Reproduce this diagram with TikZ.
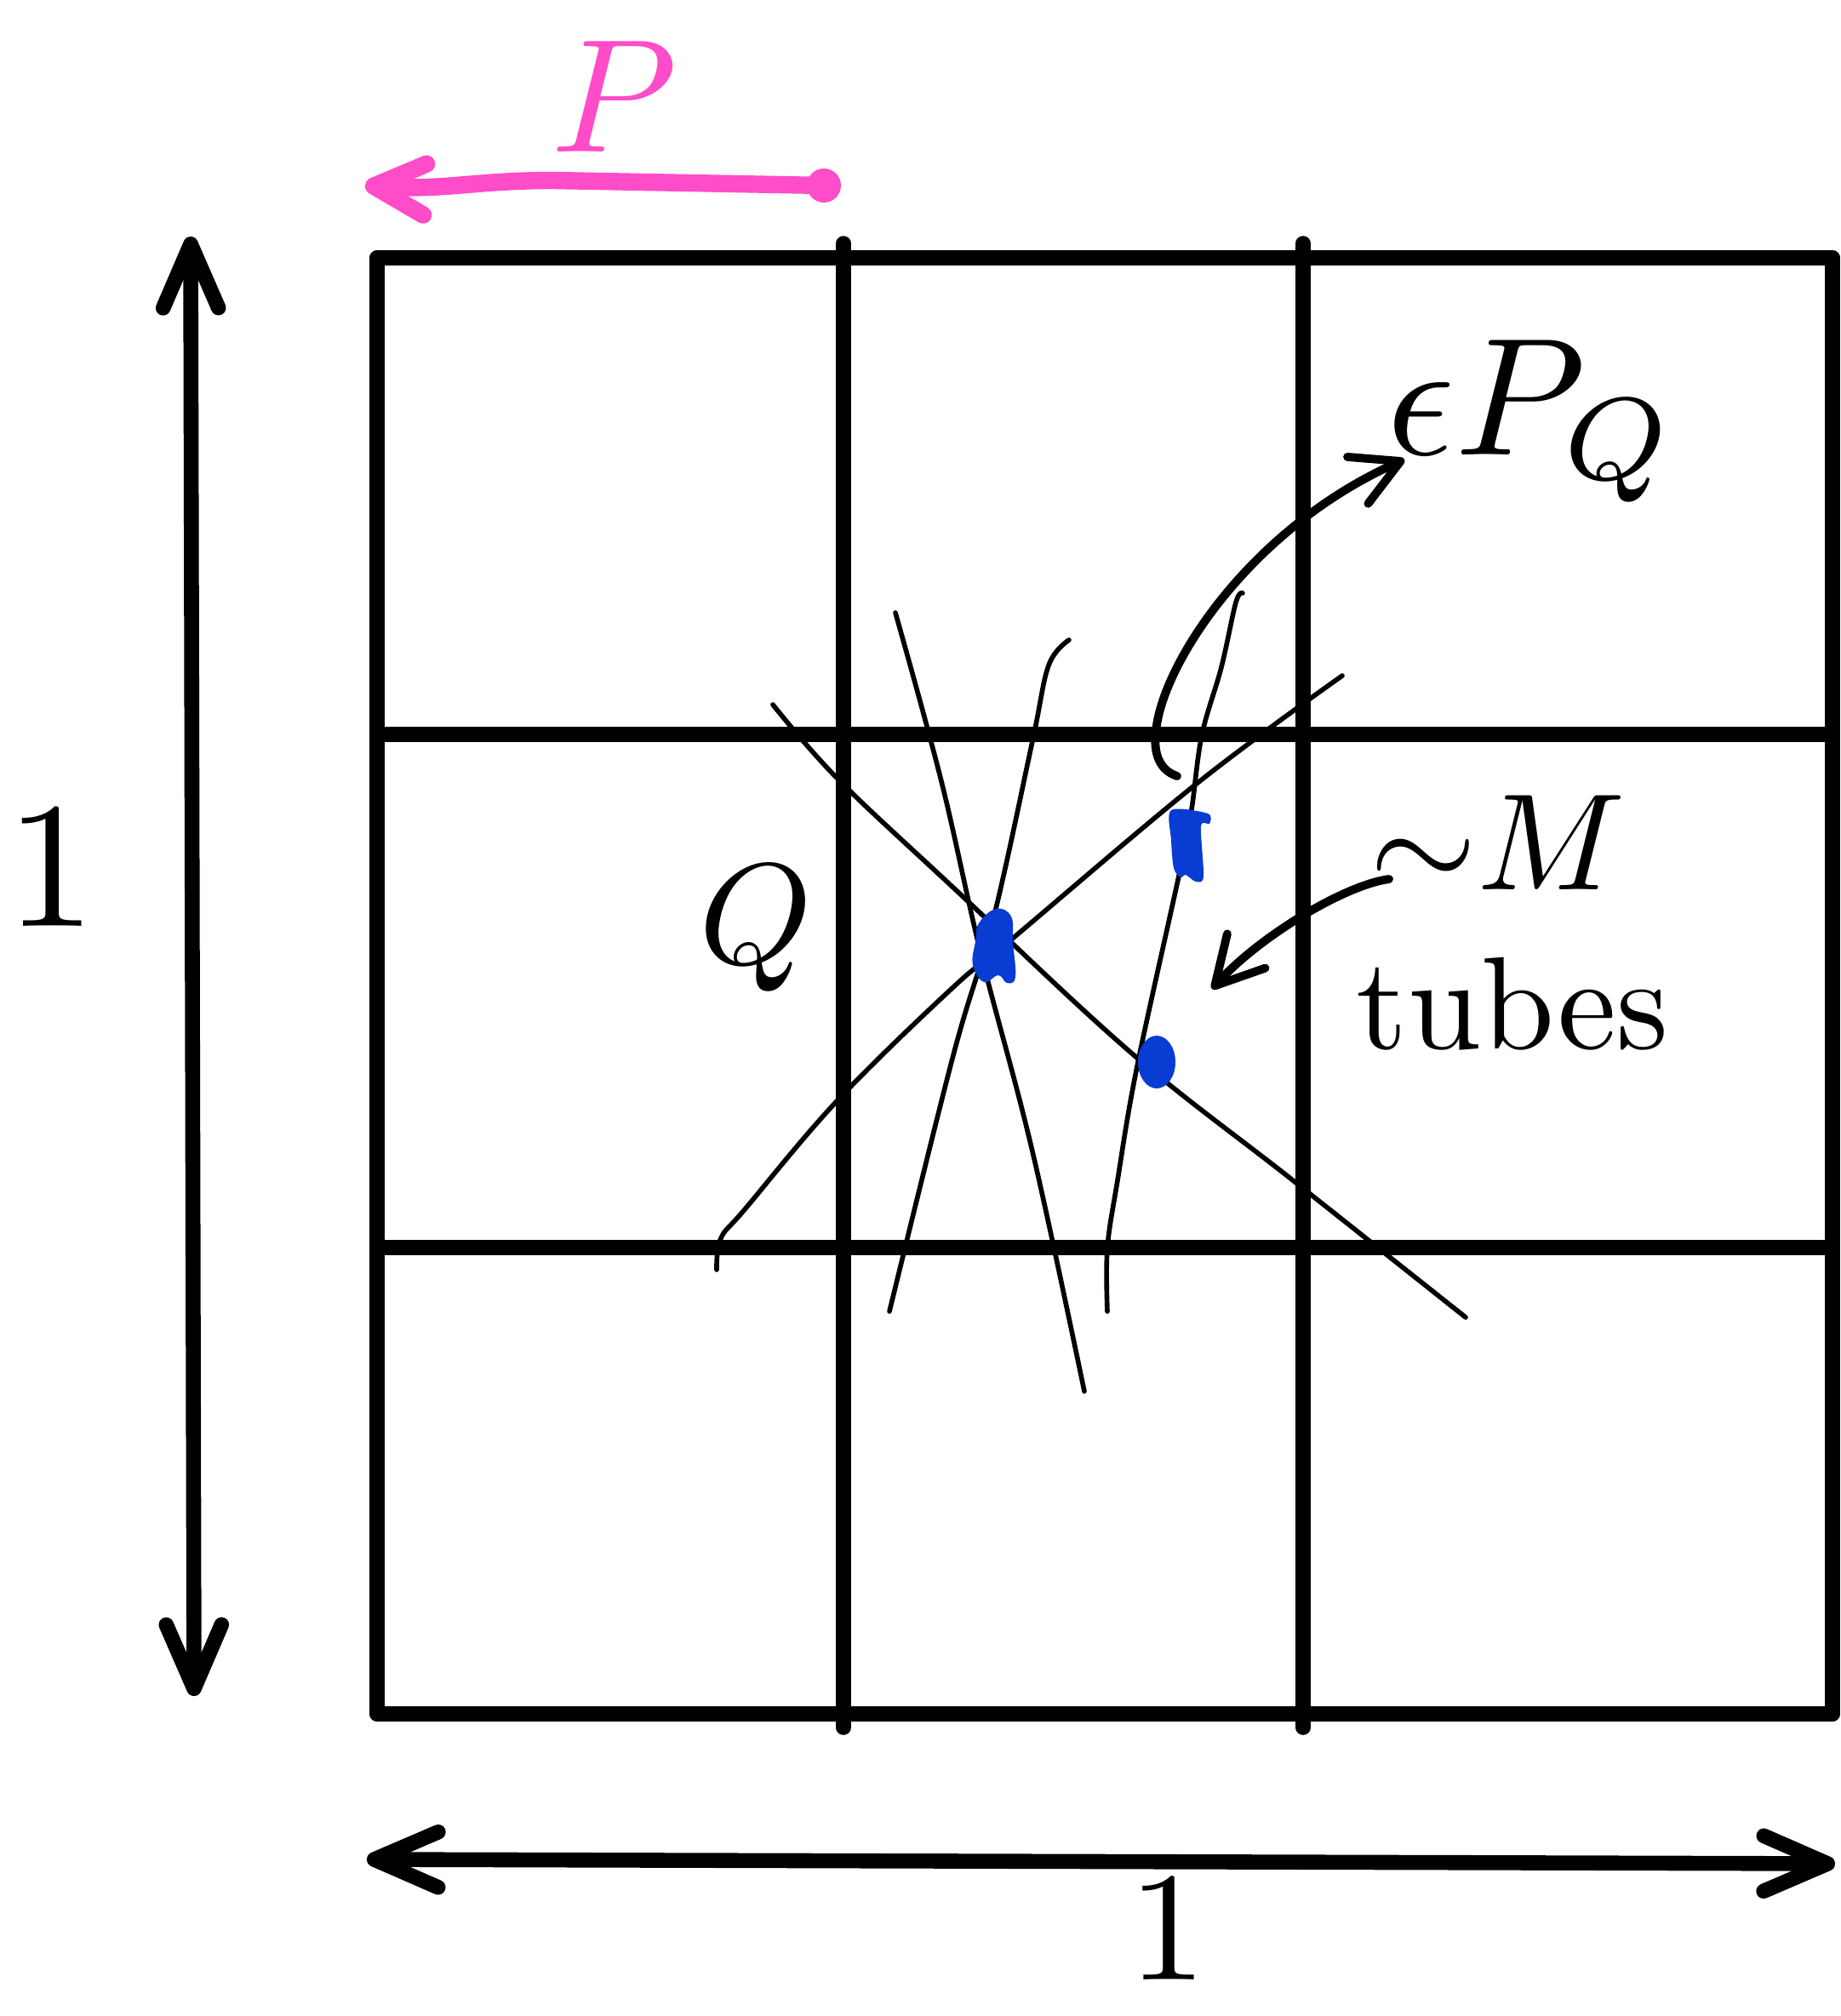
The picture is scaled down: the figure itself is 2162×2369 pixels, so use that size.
\documentclass[tikz,border=0pt]{standalone}
\usetikzlibrary{arrows.meta}
\definecolor{pinkpen}{RGB}{255,76,200}
\definecolor{bluepen}{RGB}{8,60,210}
\tikzset{
  gridline/.style={line width=5pt, line cap=round},
  tube/.style={line width=1.6pt, line cap=round, line join=round},
  bigarrow/.style={line width=5pt, line cap=round,
    {Straight Barb[length=0.75cm,width=0.65cm,round]}-{Straight Barb[length=0.75cm,width=0.65cm,round]}},
  pinkline/.style={pinkpen, line width=5.8pt, line cap=round,
    -{Straight Barb[length=0.6cm,width=0.6cm,round]}},
  thinarrow/.style={line width=2.8pt, line cap=round,
    -{Straight Barb[length=0.55cm,width=0.6cm,round]}},
  bluemark/.style={fill=bluepen, draw=none},
  lbl/.style={inner sep=0pt, text=black}
}
\begin{document}
\begin{tikzpicture}[x=0.01cm,y=-0.01cm]
\useasboundingbox (0,0) rectangle (2162,2369);
% grid
\foreach \yy in {303,863,1466,2014} \draw[gridline] (443,\yy) -- (2153,\yy);
\draw[gridline] (443,303) -- (443,2014);
\draw[gridline] (2153,303) -- (2153,2014);
\draw[gridline] (991,286) -- (991,2030);
\draw[gridline] (1531,286) -- (1531,2030);

% dimension arrows
\coordinate (vtop) at (224,278);
\coordinate (vbot) at (228,1993);
\draw[bigarrow] (vtop) -- (vbot);
\coordinate (hleft) at (431,2185);
\coordinate (hright) at (2156,2190);
\draw[bigarrow] (hleft) -- (hright);
\node[lbl, scale=6] (oneL) at (60,1020) {$1$};
\node[lbl, scale=5.2] (oneB) at (1372,2268) {$1$};

% pink arrow P
\coordinate (pL) at (429,218);
\coordinate (pR) at (968,218);
\draw[pinkline] (pR) -- (650,212) .. controls (560,212) and (520,224) .. (pL);
\fill[pinkpen] (pR) circle[radius=20];
\node[lbl, text=pinkpen, scale=5.4] (P) at (722,114) {$P$};

% tubes
\draw[tube] plot[smooth, tension=0.6] coordinates {(908,828) (984,915) (1120,1043) (1330,1238) (1519,1387) (1722,1548)};
\draw[tube] plot[smooth, tension=0.6] coordinates {(842,1492) (847,1455) (876,1420) (984,1293) (1120,1160) (1187,1105) (1407,920) (1577,794)};
\draw[tube] plot[smooth, tension=0.6] coordinates {(1052,720) (1106,918) (1152,1119) (1213,1353) (1274,1635)};
\draw[tube] plot[smooth, tension=0.6] coordinates {(1256,752) (1232,782) (1213,871) (1167,1080) (1120,1240) (1045,1541)};
\draw[tube] plot[smooth, tension=0.6] coordinates {(1460,697) (1452,708) (1435,784) (1412,864) (1400,951) (1387,1020) (1336,1253) (1313,1387) (1301,1467) (1301,1541)};

% blue marks
\fill[bluemark] plot[smooth cycle, tension=0.7] coordinates {(1150,1085) (1170,1068) (1188,1077) (1190,1107) (1193,1148) (1183,1155) (1173,1146) (1156,1154) (1143,1134) (1146,1106)};
\fill[bluemark] plot[smooth cycle, tension=0.5] coordinates {(1376,952) (1419,956) (1421,968) (1411,971) (1414,1030) (1405,1036) (1393,1028) (1387,1031) (1379,1020) (1376,987)};
\fill[bluemark] (1359,1248) ellipse[x radius=22, y radius=31];

% labels
\node[lbl, scale=4.8] (Q) at (888,1091) {$Q$};
\node[lbl, scale=5.6] (eps) at (1800,495) {$\epsilon P_Q$};
\node[lbl, scale=4.6] (M) at (1760,990) {${\sim}M$};
\node[lbl, scale=4.4] (tubes) at (1777,1180) {tubes};

% arrows to labels
\coordinate (epsStart) at (1383,912);
\coordinate (epsTip) at (1650,540);
\draw[thinarrow] (epsStart) .. controls (1362,905) and (1355,885) .. (1358,860) .. controls (1365,780) and (1470,620) .. (epsTip);
\coordinate (Mstart) at (1632,1033);
\coordinate (Mtip) at (1424,1162);
\draw[thinarrow] (Mstart) .. controls (1580,1040) and (1480,1100) .. (Mtip);
\end{tikzpicture}
\end{document}
